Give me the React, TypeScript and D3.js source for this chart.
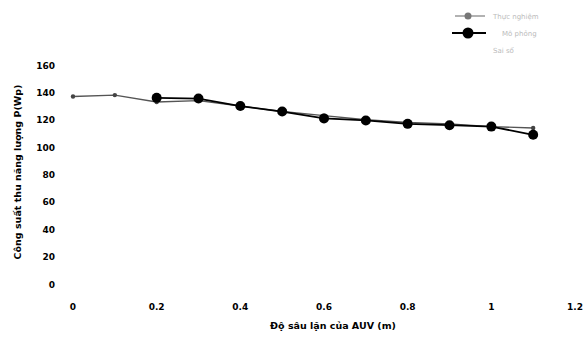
import React from "react";
import * as d3 from "d3";

const xTicks = [0, 0.2, 0.4, 0.6, 0.8, 1, 1.2];
const yTicks = [0, 20, 40, 60, 80, 100, 120, 140, 160];

const grayX = [0, 0.1, 0.2, 0.3, 0.4, 0.5, 0.6, 0.7, 0.8, 0.9, 1.0, 1.1];
const grayY = [137, 138, 133, 134, 130, 126, 123, 120, 118, 117, 115, 114];

const blackX = [0.2, 0.3, 0.4, 0.5, 0.6, 0.7, 0.8, 0.9, 1.0, 1.1];
const blackY = [136, 135.5, 130, 126, 121, 119.5, 117, 116, 115, 109];

const legendLabels = ["Thực nghiệm", "Mô phỏng", "Sai số"];
const xTitle = "Độ sâu lặn của AUV (m)";
const yTitle = "Công suất thu năng lượng P(Wp)";

export default function App() {
  const W = 587, H = 341;
  const x = d3.scaleLinear().domain([0, 1.2]).range([73, 575]);
  const y = d3.scaleLinear().domain([0, 160]).range([284, 65]);
  const line = d3.line<[number, number]>().x(d => x(d[0])).y(d => y(d[1]));
  const gray: [number, number][] = grayX.map((v, i) => [v, grayY[i]]);
  const black: [number, number][] = blackX.map((v, i) => [v, blackY[i]]);
  const font = "'DejaVu Sans', sans-serif";
  return (
    <svg width={W} height={H} style={{ position: "absolute", left: 0, top: 0, background: "#fff" }}>
      <rect width={W} height={H} fill="#fff" />
      {yTicks.map(t => (
        <text key={"y" + t} x={55} y={y(t) + 3.5} textAnchor="end" fontFamily={font} fontWeight="bold" fontSize={9} fill="#000">{t}</text>
      ))}
      {xTicks.map(t => (
        <text key={"x" + t} x={x(t)} y={310} textAnchor="middle" fontFamily={font} fontWeight="bold" fontSize={9} fill="#000">{t}</text>
      ))}
      <text x={333} y={329} textAnchor="middle" fontFamily={font} fontWeight="bold" fontSize={9.5} fill="#000">{xTitle}</text>
      <text transform={`translate(21,${172}) rotate(-90)`} textAnchor="middle" fontFamily={font} fontWeight="bold" fontSize={9.5} fill="#000">{yTitle}</text>
      <path d={line(gray) || ""} fill="none" stroke="#555" strokeWidth={1.4} />
      {gray.map((d, i) => (
        <circle key={"g" + i} cx={x(d[0])} cy={y(d[1])} r={2.2} fill="#444" />
      ))}
      <path d={line(black) || ""} fill="none" stroke="#000" strokeWidth={1.8} />
      {black.map((d, i) => (
        <circle key={"b" + i} cx={x(d[0])} cy={y(d[1])} r={5} fill="#000" />
      ))}
      <g>
        <line x1={455} x2={485} y1={16} y2={16} stroke="#999" strokeWidth={1.5} />
        <circle cx={468} cy={16} r={3.5} fill="#777" />
        <text x={493} y={19} fontFamily={font} fontSize={7} fill="#bbb">{legendLabels[0]}</text>
        <line x1={452} x2={486} y1={33} y2={33} stroke="#000" strokeWidth={2} />
        <circle cx={468} cy={33} r={5.5} fill="#000" />
        <text x={502} y={36} fontFamily={font} fontSize={7} fill="#bbb">{legendLabels[1]}</text>
        <text x={493} y={53} fontFamily={font} fontSize={7} fill="#bbb">{legendLabels[2]}</text>
      </g>
    </svg>
  );
}
